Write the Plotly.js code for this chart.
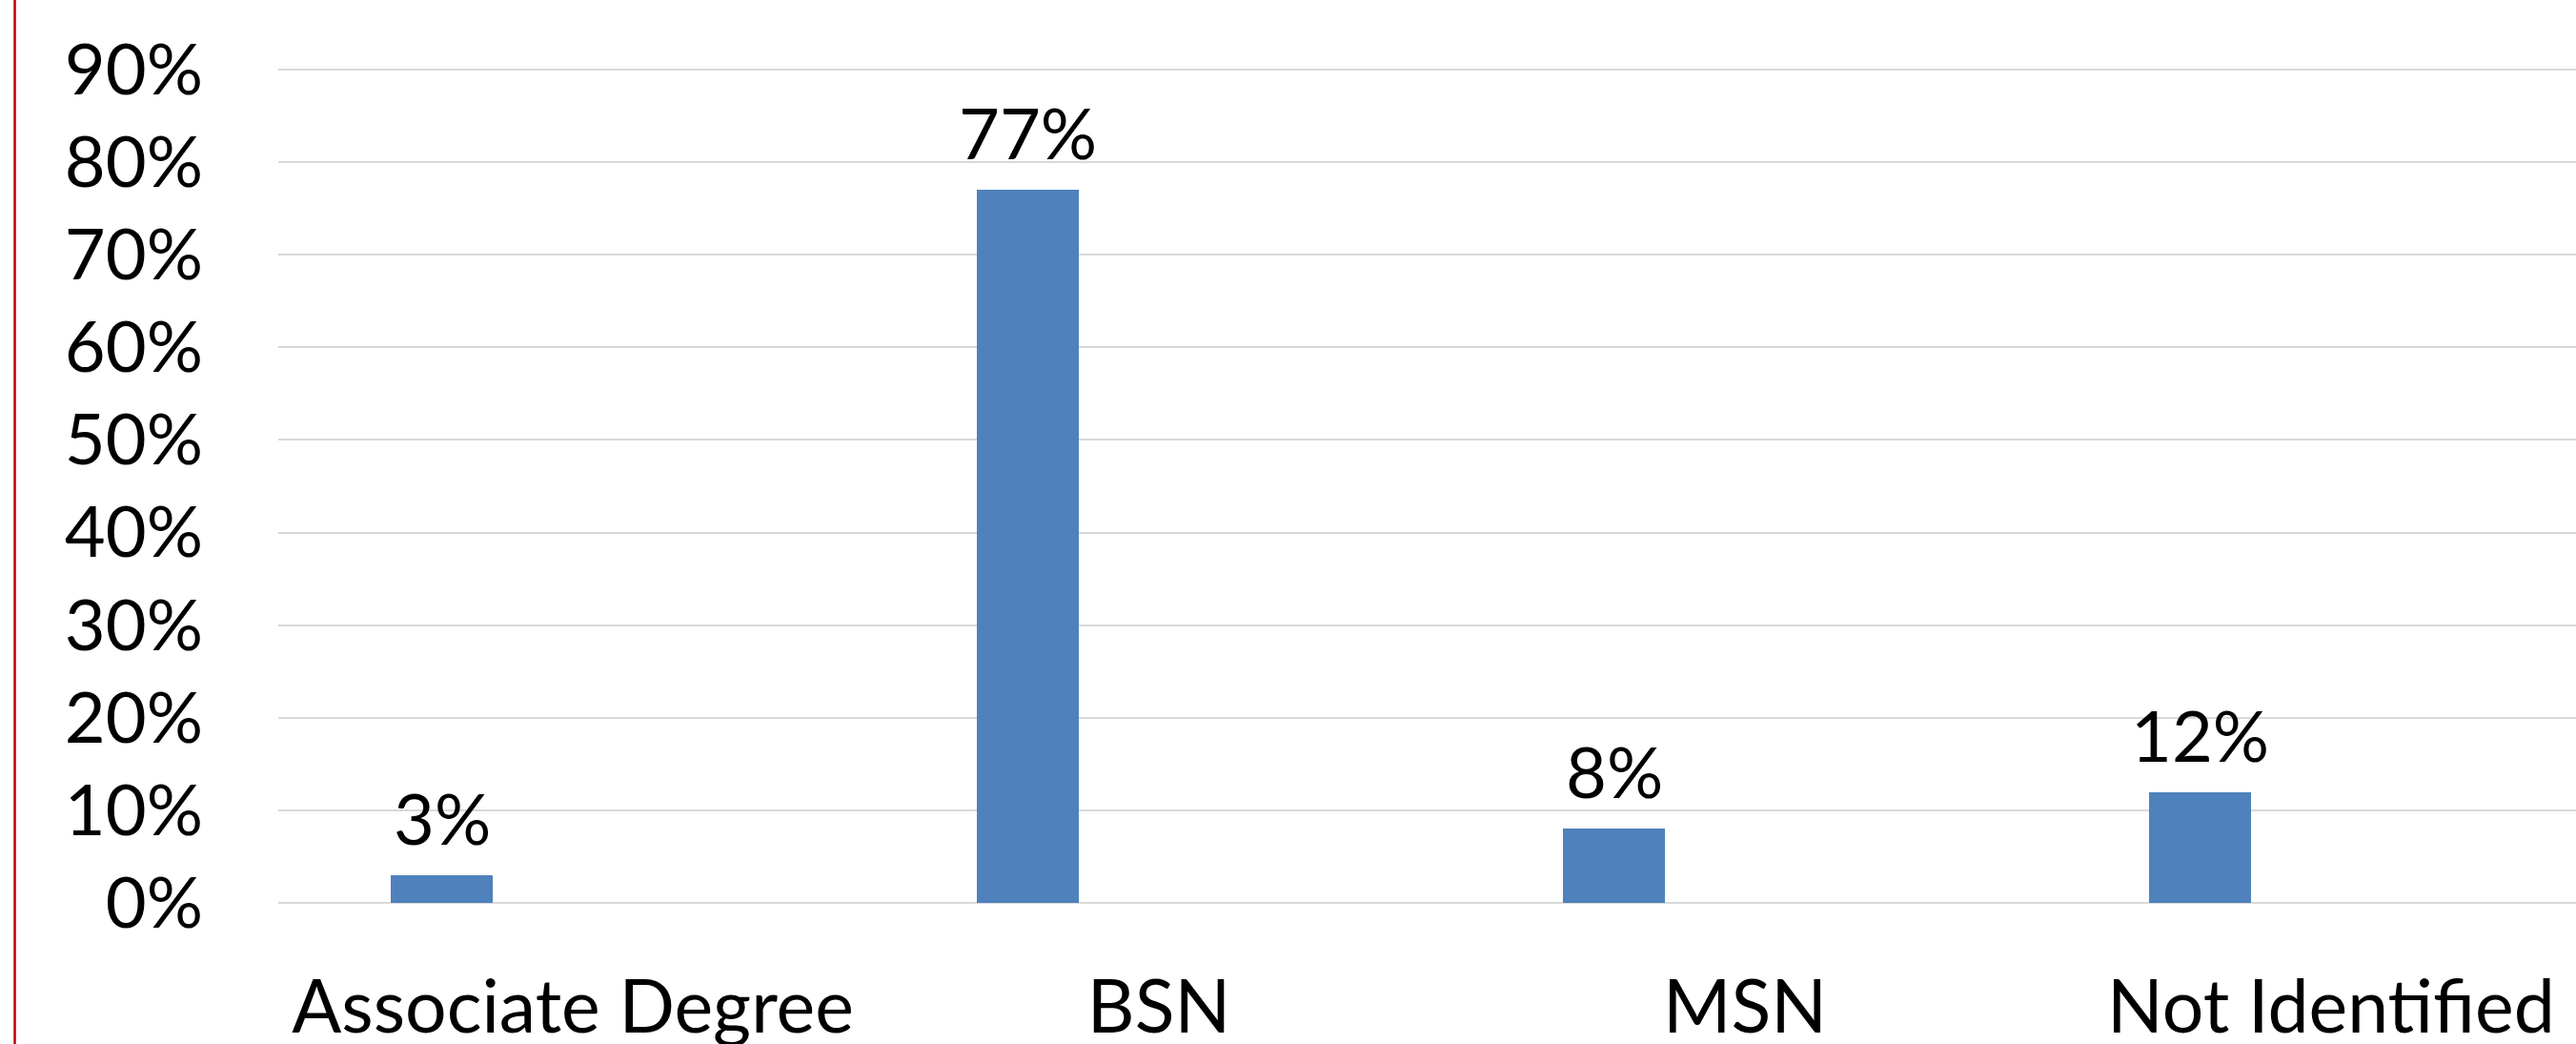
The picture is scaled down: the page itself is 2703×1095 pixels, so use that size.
<!DOCTYPE html>
<html>
<head>
<meta charset="utf-8">
<script src="https://cdn.plot.ly/plotly-3.0.1.min.js"></script>
<style>
  html, body { margin: 0; padding: 0; background: #ffffff; }
  #chart { width: 2703px; height: 1095px; }
</style>
</head>
<body>
<div id="chart"></div>
<script>
// Highest nursing degree held by respondents
const categories = ["Associate Degree", "BSN", "MSN", "Not Identified"];
const shares = [0.03, 0.77, 0.08, 0.12];
const yTickValues = [0, 0.1, 0.2, 0.3, 0.4, 0.5, 0.6, 0.7, 0.8, 0.9];

const FONT = "Lato, 'Open Sans', sans-serif";
const BAR_COLOR = "#4f81bd";

const bars = {
  type: "bar",
  x: categories,
  y: shares,
  xaxis: "x",
  yaxis: "y",
  width: 0.174,
  marker: { color: BAR_COLOR, line: { width: 0 } },
  hoverinfo: "skip",
  showlegend: false
};

// Invisible companion trace that carries the category labels on the lower axis
const labelCarrier = {
  type: "scatter",
  mode: "none",
  x: categories,
  y: shares,
  xaxis: "x2",
  yaxis: "y",
  hoverinfo: "skip",
  showlegend: false
};

// Percentage labels above each bar, taken from the same values
const valueLabels = categories.map((c, i) => ({
  x: c,
  y: shares[i],
  xref: "x",
  yref: "y",
  text: Math.round(shares[i] * 100) + "%",
  showarrow: false,
  xanchor: "center",
  yanchor: "bottom",
  yshift: 14,
  font: { family: FONT, size: 74, color: "#000000" }
}));

// plot area padded slightly past 0% and 90% so both end gridlines are kept
const layout = {
  width: 2703,
  height: 1095,
  margin: { l: 292, r: 0, t: 68, b: 143, pad: 0 },
  paper_bgcolor: "#ffffff",
  plot_bgcolor: "#ffffff",
  bargap: 0,
  xaxis: {
    type: "category",
    categoryarray: categories,
    range: [-0.2789, 3.6415],
    showticklabels: false,
    showgrid: false,
    zeroline: false,
    showline: false,
    ticks: ""
  },
  xaxis2: {
    type: "category",
    categoryarray: categories,
    overlaying: "x",
    anchor: "y",
    side: "bottom",
    range: [-0.5025, 3.4179],
    showgrid: false,
    zeroline: false,
    showline: false,
    ticks: "",
    ticklabelstandoff: 53,
    tickfont: { family: FONT, size: 77, color: "#000000" }
  },
  yaxis: {
    range: [-0.005, 0.905],
    tickvals: yTickValues,
    tickformat: ".0%",
    showgrid: true,
    gridcolor: "#d9d9d9",
    gridwidth: 2,
    zeroline: false,
    showline: false,
    ticks: "",
    ticklabelstandoff: 78,
    tickfont: { family: FONT, size: 74, color: "#000000" }
  },
  shapes: [{
    type: "line",
    xref: "paper",
    yref: "paper",
    x0: (15.5 - 292) / 2411,
    x1: (15.5 - 292) / 2411,
    y0: -143 / 884,
    y1: 1 + 68 / 884,
    line: { color: "#c00000", width: 2.5 }
  }],
  annotations: valueLabels
};

Plotly.newPlot("chart", [bars, labelCarrier], layout, { staticPlot: true, displayModeBar: false });
</script>
</body>
</html>
